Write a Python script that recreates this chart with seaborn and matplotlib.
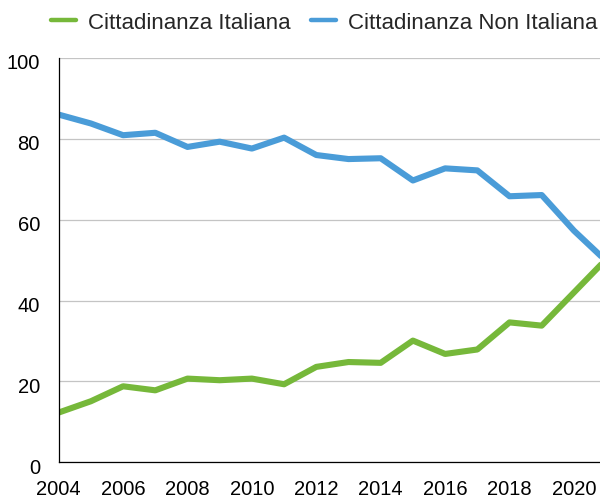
import numpy as np
import pandas as pd
import matplotlib
matplotlib.use("Agg")
import matplotlib.pyplot as plt
import matplotlib.transforms as mtransforms
import seaborn as sns

# values
years = list(range(2004, 2022))
italiana = [12.3, 15.1, 18.8, 17.8, 20.7, 20.3, 20.7, 19.3, 23.6, 24.8,
            24.6, 30.1, 26.8, 27.9, 34.6, 33.8, 42.0, 50.2]
non_italiana = [86.0, 83.8, 80.9, 81.5, 78.0, 79.3, 77.6, 80.3, 76.0, 75.0,
                75.2, 69.7, 72.7, 72.2, 65.8, 66.1, 57.3, 49.8]
series_names = ["Cittadinanza Italiana", "Cittadinanza Non Italiana"]
colors = ["#76B83A", "#4A9CD8"]
x_ticks = list(range(2004, 2021, 2))
y_ticks = [0, 20, 40, 60, 80, 100]

df = pd.DataFrame({
    "anno": years * 2,
    "valore": italiana + non_italiana,
    "serie": [series_names[0]] * len(years) + [series_names[1]] * len(years),
})

sns.set_style("white")
plt.rcParams["font.family"] = ["Liberation Sans", "DejaVu Sans"]

fig = plt.figure(figsize=(6.0, 5.02), dpi=100)
ax = fig.add_axes([0.0978, 0.0771, 1.0 - 0.0978, 0.8825 - 0.0771])

sns.lineplot(data=df, x="anno", y="valore", hue="serie",
             palette=dict(zip(series_names, colors)),
             linewidth=4.4, ax=ax, legend=False)

ax.set_xlim(2004, 2020.81)
ax.set_ylim(0, 100)
ax.set_xticks(x_ticks)
ax.set_yticks(y_ticks)
ax.set_xlabel("")
ax.set_ylabel("")

ax.grid(axis="y", color="#C4C4C4", linewidth=0.9)
ax.grid(axis="x", visible=False)
ax.set_axisbelow(True)
for side in ["top", "right"]:
    ax.spines[side].set_visible(False)
for side in ["left", "bottom"]:
    ax.spines[side].set_color("black")
    ax.spines[side].set_linewidth(0.9)

ax.tick_params(axis="x", length=0, pad=12, labelsize=14.5, colors="black")
ax.tick_params(axis="y", length=0, pad=13.5, labelsize=14.5, colors="black")
shift = mtransforms.ScaledTranslation(0, -3 / 100, fig.dpi_scale_trans)
for lab in ax.get_yticklabels():
    lab.set_transform(lab.get_transform() + shift)

handles = [plt.Line2D([], [], color=c, linewidth=3.2) for c in colors]
fig.legend(handles, series_names, loc="center", bbox_to_anchor=(0.541, 0.954),
           ncol=2, frameon=False, fontsize=16, borderpad=0,
           handlelength=1.1, handletextpad=0.57, columnspacing=0.92)

fig.savefig("out.png", dpi=100)
